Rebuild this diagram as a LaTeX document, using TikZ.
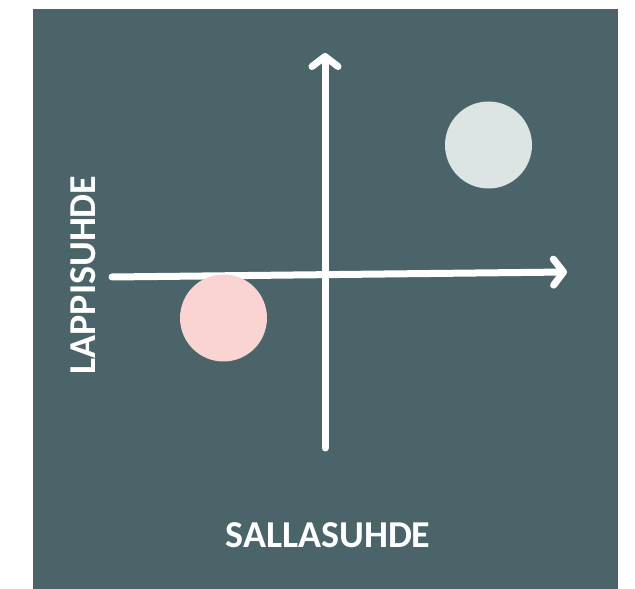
\documentclass[tikz,border=0pt]{standalone}
\usepackage{fontspec}
\setsansfont{Carlito}
\usetikzlibrary{arrows.meta}
\definecolor{slate}{HTML}{4A6469}
\definecolor{blush}{HTML}{FAD4D3}
\definecolor{mist}{HTML}{DCE5E4}
\tikzset{
  axis/.style={white, line width=7pt, line cap=round, line join=round,
    -{Straight Barb[length=10pt, width=26pt, line cap=round, line join=round]}},
  dot/.style={circle, minimum size=87pt, inner sep=0pt},
  axislabel/.style={white, font=\sffamily\bfseries\fontsize{38}{40}\selectfont}
}

\begin{document}
\begin{tikzpicture}[x=1pt, y=1pt]
  \useasboundingbox (0,0) rectangle (635,589);
  % Background panel.
  \fill[slate] (33,0) rectangle (618,580);
  % Axes.
  \coordinate (xstart) at (112,312);
  \coordinate (xend) at (567,317);
  \coordinate (ystart) at (325,141);
  \coordinate (yend) at (325,536);
  \draw[axis] (xstart) -- (xend);
  \draw[axis] (ystart) -- (yend);
  % The two circles.
  \node[dot, fill=blush] (low) at (223.5,271) {};
  \node[dot, fill=mist] (high) at (488.5,444) {};
  % Axis labels.
  \node[axislabel] (xlabel) at (328,54) {SALLASUHDE};
  \node[axislabel, rotate=90] (ylabel) at (83,314) {LAPPISUHDE};
\end{tikzpicture}
\end{document}
